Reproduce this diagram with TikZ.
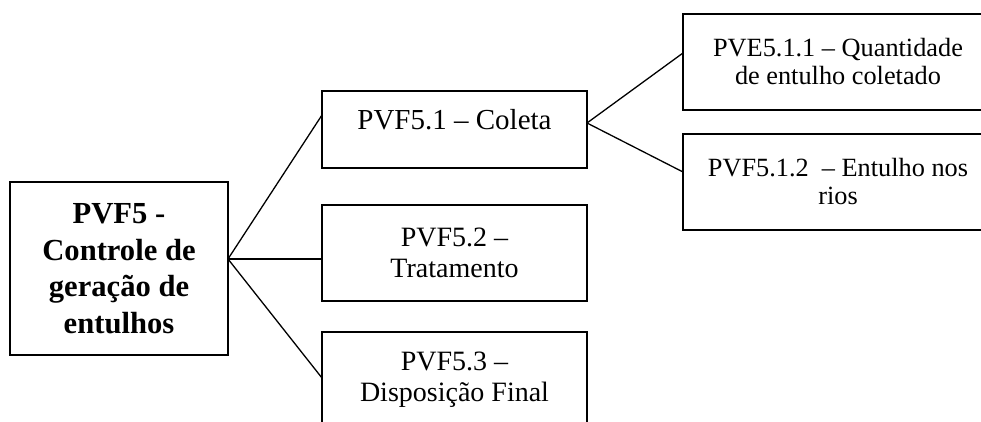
\documentclass[tikz,border=0pt]{standalone}
\usepackage{fontspec}
\setmainfont{Liberation Serif}
\usetikzlibrary{positioning}

\begin{document}
\begin{tikzpicture}[x=1pt,y=1pt,
    box/.style={draw,line width=1.8pt,outer sep=0pt,inner sep=2pt,align=center},
    midbox/.style={box,minimum width=265pt,minimum height=96pt,font=\fontsize{28}{31}\selectfont},
    leafbox/.style={box,minimum width=310pt,minimum height=96pt,font=\fontsize{26.3}{28}\selectfont},
    link/.style={line width=1.3pt}]
  \useasboundingbox (0,0) rectangle (981,422);
  \node[box,minimum width=218pt,minimum height=173pt,font=\bfseries\fontsize{30.6}{36.5}\selectfont] (root) at (119,153.5)
        {PVF5 -\\Controle de\\geração de\\entulhos};
  \node[midbox,minimum height=77pt,text height=19.5pt,text depth=18.5pt,font=\fontsize{29}{31}\selectfont] (coleta) at (454.5,292.5) {PVF5.1 – Coleta};
  \node[midbox,below=37pt of coleta] (trat) {PVF5.2 –\\Tratamento};
  \node[midbox,below=31pt of trat] (disp) {PVF5.3 –\\Disposição Final};
  \node[leafbox] (quant) at (838,360) {PVE5.1.1 – Quantidade\\de entulho coletado};
  \node[leafbox,below=24pt of quant] (rios) {PVF5.1.2\ \ – Entulho nos\\rios};
  \coordinate (fan) at ([yshift=9.5pt]root.east);
  \coordinate (fanc) at ([yshift=6.5pt]coleta.east);
  \draw[link] (fan) -- ([yshift=14.5pt]coleta.west);
  \draw[link] (fan) -- ([yshift=-6pt]trat.west);
  \draw[link] (fan) -- ([yshift=2pt]disp.west);
  \draw[link] (fanc) -- ([yshift=9pt]quant.west);
  \draw[link] (fanc) -- ([yshift=10pt]rios.west);
\end{tikzpicture}
\end{document}
